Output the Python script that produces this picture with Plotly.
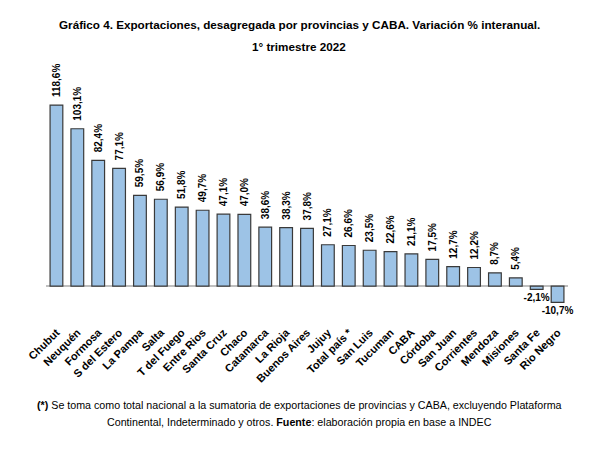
import plotly.graph_objects as go

categories = ["Chubut", "Neuquén", "Formosa", "S del Estero", "La Pampa", "Salta",
              "T del Fuego", "Entre Rios", "Santa Cruz", "Chaco", "Catamarca", "La Rioja",
              "Buenos Aires", "Jujuy", "Total país *", "San Luis", "Tucuman", "CABA",
              "Córdoba", "San Juan", "Corrientes", "Mendoza", "Misiones", "Santa Fe",
              "Rio Negro"]
values = [118.6, 103.1, 82.4, 77.1, 59.5, 56.9, 51.8, 49.7, 47.1, 47.0, 38.6, 38.3,
          37.8, 27.1, 26.6, 23.5, 22.6, 21.1, 17.5, 12.7, 12.2, 8.7, 5.4, -2.1, -10.7]

def fmt(v):
    return f"{v:.1f}".replace(".", ",") + "%"

pos_x = [c for c, v in zip(categories, values) if v >= 0]
pos_y = [v for v in values if v >= 0]
neg_x = [c for c, v in zip(categories, values) if v < 0]
neg_y = [v for v in values if v < 0]

BAR_COLOR = "#9DC3E6"
LINE_COLOR = "#3A3A3A"
FONT = "Liberation Sans, Arial, sans-serif"

W, H = 589, 459
ML, MR, MT, MB = 38, 29, 47, 149

fig = go.Figure()
fig.add_trace(go.Bar(
    x=pos_x, y=pos_y, text=["\u2002" + fmt(v) for v in pos_y],
    textposition="outside", textangle=-90, constraintext="none", cliponaxis=False,
    textfont=dict(family=FONT, size=10, color="#000000", weight="bold"),
    marker=dict(color=BAR_COLOR, line=dict(color=LINE_COLOR, width=1.2)),
    hoverinfo="skip", showlegend=False))
fig.add_trace(go.Bar(
    x=neg_x, y=neg_y, text=[fmt(v) for v in neg_y],
    textposition="outside", textangle=0, constraintext="none", cliponaxis=False,
    textfont=dict(family=FONT, size=10, color="#000000", weight="bold"),
    marker=dict(color=BAR_COLOR, line=dict(color=LINE_COLOR, width=1.2)),
    hoverinfo="skip", showlegend=False))

def py(pix):
    return (H - MB - pix) / (H - MT - MB)

def px(pix):
    return (pix - ML) / (W - ML - MR)

def ann(text, ypix, size):
    return dict(text=text, x=px(291), xref="paper", xanchor="center",
                y=py(ypix), yref="paper", yanchor="middle", showarrow=False,
                font=dict(family=FONT, size=size, color="#000000"))

fig.update_layout(
    width=W, height=H,
    margin=dict(l=ML, r=MR, t=MT, b=MB),
    paper_bgcolor="white", plot_bgcolor="white",
    barmode="relative", bargap=0.39,
    xaxis=dict(categoryorder="array", categoryarray=categories,
               tickangle=-45, showgrid=False, showline=False, ticks="",
               ticklabelstandoff=5,
               tickfont=dict(family=FONT, size=11, color="#000000", weight="bold")),
    yaxis=dict(range=[-20.9, 151.4], showgrid=False, showline=False,
               showticklabels=False, ticks="", zeroline=True,
               zerolinecolor="#BFBFBF", zerolinewidth=1.5),
    annotations=[
        ann("<b>Gráfico 4. Exportaciones, desagregada por provincias y CABA. Variación % interanual.</b>", 17, 11.7),
        ann("<b>1° trimestre 2022</b>", 39, 11.7),
        ann("<b>(*)</b> Se toma como total nacional a la sumatoria de exportaciones de provincias y CABA, excluyendo Plataforma", 397, 10.7),
        ann("Continental, Indeterminado y otros. <b>Fuente</b>: elaboración propia en base a INDEC", 414, 10.7),
    ],
)

fig.write_html("out.html")
